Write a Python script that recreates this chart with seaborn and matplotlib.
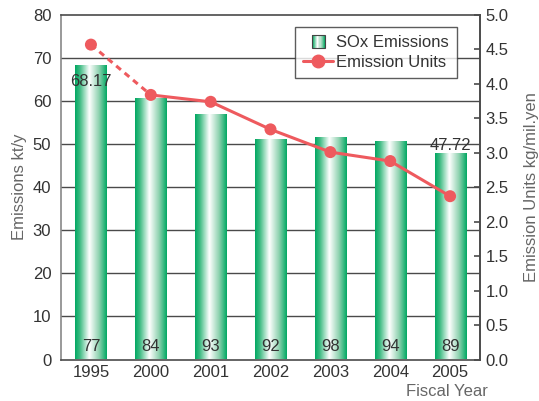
import numpy as np
import pandas as pd
import matplotlib
matplotlib.use("Agg")
import matplotlib.pyplot as plt
import seaborn as sns
from matplotlib.colors import LinearSegmentedColormap
from matplotlib.patches import Rectangle
from matplotlib.lines import Line2D
from matplotlib.legend_handler import HandlerBase

# ---- data ----
years = ["1995", "2000", "2001", "2002", "2003", "2004", "2005"]
sox_emissions = [68.17, 60.6, 56.8, 51.0, 51.4, 50.6, 47.72]
emission_units = [4.57, 3.84, 3.74, 3.34, 3.01, 2.88, 2.37]
bottom_numbers = ["77", "84", "93", "92", "98", "94", "89"]
left_ticks = [0, 10, 20, 30, 40, 50, 60, 70, 80]
right_ticks = [0.0, 0.5, 1.0, 1.5, 2.0, 2.5, 3.0, 3.5, 4.0, 4.5, 5.0]

sns.set_theme(style="white")
plt.rcParams["font.family"] = ["Liberation Sans", "DejaVu Sans"]

FS = 12
TXT = "#333333"
GREY = "#666666"
RED = "#ee5a5e"
GRID = "#4a4a4a"

green_cmap = LinearSegmentedColormap.from_list(
    "bar", [(0.0, "#00a862"), (0.15, "#3dbb82"), (0.45, "#ffffff"),
            (0.75, "#8fd2b0"), (1.0, "#00a862")])

fig = plt.figure(figsize=(5.39, 4.01), dpi=100)
ax = fig.add_axes([61/539, 1-359.5/401, 419/539, 344.5/401])

df = pd.DataFrame({"year": years, "sox": sox_emissions})
sns.barplot(data=df, x="year", y="sox", ax=ax, width=0.52, color="#00a862",
            saturation=1, zorder=3)

grad = np.linspace(0, 1, 256).reshape(1, -1)
for p in ax.patches:
    x0, y0 = p.get_x(), p.get_y()
    w, h = p.get_width(), p.get_height()
    p.set_facecolor("none")
    p.set_edgecolor("none")
    ax.imshow(grad, cmap=green_cmap, extent=(x0, x0 + w, y0, y0 + h),
              aspect="auto", zorder=3, interpolation="bilinear")

ax.set_xlim(-0.5, len(years) - 0.5)
ax.set_ylim(0, 80)
ax.set_yticks(left_ticks)
ax.set_yticklabels([str(t) for t in left_ticks])
for t in left_ticks[1:-1]:
    ax.axhline(t, color=GRID, lw=1.0, zorder=1)

ax.tick_params(axis="y", length=0, pad=7, labelsize=FS, labelcolor=TXT)
ax.tick_params(axis="x", length=0, pad=4, labelsize=FS, labelcolor=TXT)
ax.set_xticks(range(len(years)))
ax.set_xticklabels(years)
ax.set_xticks(np.arange(0.5, len(years) - 1, 1.0), minor=True)
ax.tick_params(axis="x", which="minor", direction="in", length=6,
               width=1.2, color=GRID)
ax.set_xlabel("")
ax.set_ylabel("Emissions kt/y", fontsize=FS, color=GREY, labelpad=4)

for side in ["top", "bottom", "right"]:
    ax.spines[side].set_color(GRID)
    ax.spines[side].set_linewidth(1.2)
ax.spines["left"].set_color("#888888")
ax.spines["left"].set_linewidth(1.2)

# value labels
ax.annotate(f"{sox_emissions[0]:.2f}", xy=(0, sox_emissions[0]), xytext=(0, -11),
            textcoords="offset points", ha="center", va="center",
            fontsize=FS, color=TXT, zorder=5)
ax.annotate(f"{sox_emissions[-1]:.2f}", xy=(len(years) - 1, sox_emissions[-1]),
            xytext=(0, 1), textcoords="offset points", ha="center", va="bottom",
            fontsize=FS, color=TXT, zorder=5)
for i, s in enumerate(bottom_numbers):
    ax.text(i, 3.1, s, ha="center", va="center", fontsize=FS, color=TXT, zorder=5)

# secondary axis
ax2 = ax.twinx()
xpos = np.arange(len(years))
line_df = pd.DataFrame({"x": xpos, "u": emission_units})
sns.lineplot(data=line_df.iloc[:2], x="x", y="u", ax=ax2, color=RED, lw=2.2,
             linestyle=(0, (2, 1.6)), zorder=4)
sns.lineplot(data=line_df.iloc[1:], x="x", y="u", ax=ax2, color=RED, lw=2.2,
             zorder=4)
sns.scatterplot(data=line_df, x="x", y="u", ax=ax2, color=RED, s=75,
                edgecolor="none", zorder=5)
ax2.set_ylim(0, 5)
ax2.set_xlim(-0.5, len(years) - 0.5)
ax2.set_yticks(right_ticks)
ax2.set_yticklabels([f"{t:.1f}" for t in right_ticks])
ax2.tick_params(axis="y", direction="in", length=4, width=1.2, color=GRID,
                pad=4, labelsize=FS, labelcolor=TXT)
ax2.set_xlabel("")
ax2.set_ylabel("Emission Units kg/mil.yen", fontsize=FS, color=GREY, labelpad=11)
for s in ax2.spines.values():
    s.set_visible(False)
ax2.spines["right"].set_visible(True)
ax2.spines["right"].set_color(GRID)
ax2.spines["right"].set_linewidth(1.2)


class GradientHandler(HandlerBase):
    def create_artists(self, legend, orig_handle, xdescent, ydescent, width,
                       height, fontsize, trans):
        size = 9.5
        x0 = -xdescent + (width - size) / 2
        y0 = -ydescent + (height - size) / 2
        n = 12
        arts = []
        for k in range(n):
            c = green_cmap((k + 0.5) / n)
            arts.append(Rectangle((x0 + k * size / n, y0), size / n + 0.2, size,
                                  facecolor=c, edgecolor="none", transform=trans))
        arts.append(Rectangle((x0, y0), size, size, facecolor="none",
                              edgecolor="#444444", lw=0.8, transform=trans))
        return arts


bar_handle = Rectangle((0, 0), 1, 1)
line_handle = Line2D([], [], color=RED, lw=2.2, marker="o", markersize=9)
leg = ax2.legend([bar_handle, line_handle], ["SOx Emissions", "Emission Units"],
                 handler_map={Rectangle: GradientHandler()},
                 loc="upper right", bbox_to_anchor=(0.945, 0.965),
                 frameon=True, fancybox=False, fontsize=FS, handlelength=1.8,
                 handletextpad=0.15, borderpad=0.5, labelspacing=0.25,
                 borderaxespad=0)
leg.get_frame().set_edgecolor("#333333")
leg.get_frame().set_linewidth(1.0)
for t in leg.get_texts():
    t.set_color(TXT)

fig.text(488/539, 1 - 391/401, "Fiscal Year", ha="right", va="center",
         fontsize=FS, color=GREY)

fig.savefig("out.png", dpi=100)
